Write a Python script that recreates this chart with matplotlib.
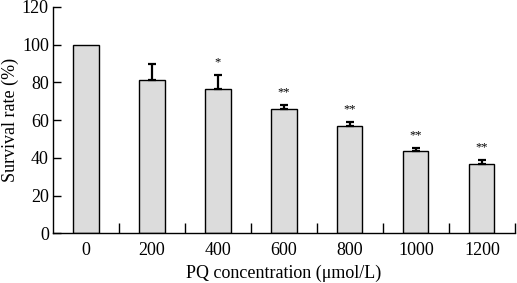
import matplotlib.pyplot as plt
import numpy as np

plt.rcParams['font.family'] = ['Liberation Serif', 'DejaVu Serif']

# data
concentrations = ['0', '200', '400', '600', '800', '1000', '1200']
survival = [100.0, 81.2, 76.4, 66.0, 57.1, 43.5, 36.8]
errors = [0.0, 8.3, 7.7, 1.9, 1.9, 1.9, 1.9]
marks = ['', '', '*', '**', '**', '**', '**']

fig = plt.figure(figsize=(5.17, 2.83), dpi=100)
ax = fig.add_axes([0.1025, 0.1756, 0.8935, 0.80])

x = np.arange(len(concentrations))
ax.bar(x, survival, width=0.38, color='#dcdcdc', edgecolor='black', linewidth=1.0, zorder=2)
ax.errorbar(x[1:], survival[1:], yerr=[np.zeros(len(x) - 1), errors[1:]], fmt='none',
            ecolor='black', elinewidth=1.6, capsize=3, capthick=1.6, zorder=3)

for xi, v, e, m in zip(x, survival, errors, marks):
    if m:
        ax.text(xi, v + e + 3.5, m, ha='center', va='bottom', fontsize=9)

ax.set_xlim(-0.5, len(x) - 0.5)
ax.set_ylim(0, 120)
ax.set_yticks(range(0, 121, 20))
ax.set_xticks(x)
ax.set_xticklabels(concentrations)
ax.tick_params(axis='x', length=0, pad=6, labelsize=13)
ax.set_xticks(np.arange(0.5, len(x), 1.0), minor=True)
ax.tick_params(axis='x', which='minor', direction='in', length=7, width=1)
ax.tick_params(axis='y', direction='in', length=6, width=1, labelsize=13, pad=3)

ax.spines['top'].set_visible(False)
ax.spines['right'].set_visible(False)
ax.spines['left'].set_linewidth(1)
ax.spines['bottom'].set_linewidth(1)

ax.set_xlabel('PQ concentration (μmol/L)', fontsize=13, labelpad=4)
ax.set_ylabel('Survival rate (%)', fontsize=13, labelpad=2)

fig.savefig('out.png', dpi=100)
